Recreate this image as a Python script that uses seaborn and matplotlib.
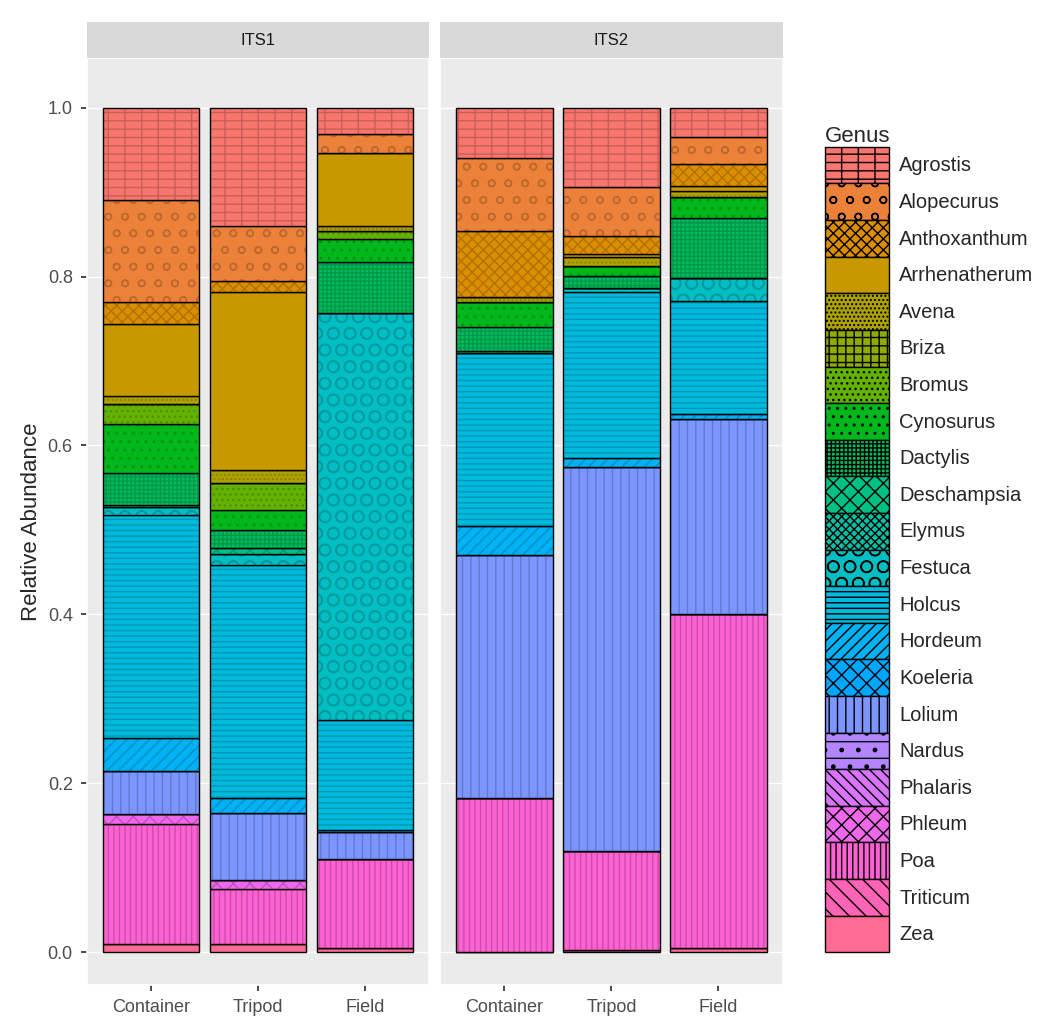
import numpy as np
import pandas as pd
import seaborn as sns
import matplotlib.pyplot as plt
from matplotlib.patches import Patch

sns.set_theme(style="darkgrid", rc={"axes.facecolor": "#EBEBEB", "grid.color": "white"})
plt.rcParams['font.family'] = ['Liberation Sans', 'DejaVu Sans']

genera = ["Agrostis", "Alopecurus", "Anthoxanthum", "Arrhenatherum", "Avena", "Briza",
          "Bromus", "Cynosurus", "Dactylis", "Deschampsia", "Elymus", "Festuca", "Holcus",
          "Hordeum", "Koeleria", "Lolium", "Nardus", "Phalaris", "Phleum", "Poa",
          "Triticum", "Zea"]
sites = ["Container", "Tripod", "Field"]

# relative abundance per genus, order follows `genera`
its1_container = [0.109, 0.121, 0.026, 0.085, 0.010, 0, 0.024, 0.058, 0.037, 0.003, 0, 0.009,
                  0.265, 0.038, 0, 0.052, 0, 0, 0.011, 0.142, 0, 0.010]
its1_tripod = [0.140, 0.065, 0.013, 0.211, 0.015, 0, 0.033, 0.023, 0.021, 0.007, 0, 0.013,
               0.276, 0.018, 0, 0.080, 0, 0, 0.010, 0.065, 0, 0.010]
its1_field = [0.031, 0.022, 0, 0.087, 0.006, 0, 0.010, 0.027, 0.060, 0, 0, 0.482,
              0.130, 0.003, 0, 0.032, 0, 0, 0, 0.105, 0, 0.005]
its2_container = [0.059, 0.087, 0.078, 0, 0.006, 0, 0, 0.030, 0.028, 0.002, 0, 0,
                  0.205, 0.035, 0, 0.287, 0, 0, 0, 0.183, 0, 0]
its2_tripod = [0.094, 0.058, 0.021, 0.004, 0.010, 0, 0, 0.012, 0.014, 0, 0, 0.005,
               0.197, 0.011, 0, 0.454, 0, 0, 0, 0.117, 0, 0.003]
its2_field = [0.035, 0.032, 0.026, 0.006, 0.007, 0, 0, 0.025, 0.071, 0, 0, 0.027,
              0.134, 0.006, 0, 0.231, 0, 0, 0, 0.395, 0, 0.005]

data = {"ITS1": [its1_container, its1_tripod, its1_field],
        "ITS2": [its2_container, its2_tripod, its2_field]}

hatches = ["--|", "o", "xxx", "", "....", "++", "...", "..", "++++", "xx", "xxxx", "O",
           "---", "///", "xx", "||", "-.", "\\\\\\", "xx", "|||", "\\\\", "vv"]


def hue_pal(n, l=65, c=100, h0=15):
    # ggplot2 default hue palette (HCL -> sRGB)
    hs = np.linspace(h0, h0 + 360, n + 1)[:-1]
    cols = []
    for h in hs:
        u, v = c * np.cos(np.radians(h)), c * np.sin(np.radians(h))
        Y = ((l + 16) / 116) ** 3
        un, vn = 0.19784, 0.46834
        up, vp = u / (13 * l) + un, v / (13 * l) + vn
        X = 9 * Y * up / (4 * vp)
        Z = -X / 3 - 5 * Y + 3 * Y / vp
        rgb = np.array([[3.2404542, -1.5371385, -0.4985314],
                        [-0.9692660, 1.8760108, 0.0415560],
                        [0.0556434, -0.2040259, 1.0572252]]) @ np.array([X, Y, Z])
        rgb = np.where(rgb <= 0.0031308, 12.92 * rgb, 1.055 * np.clip(rgb, 0, None) ** (1 / 2.4) - 0.055)
        cols.append(tuple(np.clip(rgb, 0, 1)))
    return cols


colors = hue_pal(len(genera))

fig, axes = plt.subplots(1, 2, figsize=(10.45, 10.26), dpi=100, sharey=True)
fig.subplots_adjust(left=0.083, right=0.749, bottom=0.04, top=0.9435, wspace=0.032)

for ax, (facet, bars) in zip(axes, data.items()):
    df = pd.DataFrame(bars, index=sites, columns=genera)
    base = np.zeros(len(sites))
    x = np.arange(len(sites))
    for g, col, hat in zip(genera[::-1], colors[::-1], hatches[::-1]):
        vals = df[g].values
        dark = tuple(np.array(col) * 0.8)
        ax.bar(x, vals, 0.9, bottom=base, color=col, hatch=hat, edgecolor=dark, linewidth=0)
        ax.bar(x, vals, 0.9, bottom=base, fill=False, edgecolor="black", linewidth=1)
        base += vals
    ax.set_xticks(x, sites, fontsize=13, color="#4D4D4D")
    ax.set_xlim(-0.6, 2.6)
    ax.set_ylim(-0.039, 1.059)
    ax.grid(axis="x", visible=False)
    ax.tick_params(length=4, color="#333333", bottom=True, left=True, pad=6)
    bb = ax.get_position()
    fig.patches.append(plt.Rectangle((bb.x0, bb.y1), bb.width, 0.035, transform=fig.transFigure,
                                     facecolor="#D9D9D9", edgecolor="none"))
    fig.text((bb.x0 + bb.x1) / 2, bb.y1 + 0.0175, facet, ha="center", va="center",
             fontsize=12, color="#1A1A1A")

axes[0].set_yticks([0, 0.2, 0.4, 0.6, 0.8, 1.0], ["0.0", "0.2", "0.4", "0.6", "0.8", "1.0"],
                   fontsize=13, color="#4D4D4D")
axes[0].set_ylabel("Relative Abundance", fontsize=16)
axes[1].tick_params(left=False)

handles = [Patch(facecolor=c, hatch=h, edgecolor="black", linewidth=1) for c, h in zip(colors, hatches)]
leg = fig.legend(handles, genera, title="Genus", loc="upper left", bbox_to_anchor=(0.772, 0.895),
                 frameon=False, fontsize=14.5, title_fontsize=16, handlelength=3.2, handleheight=2.42,
                 labelspacing=0.0, handletextpad=0.5, alignment="left")
plt.savefig("out.png")
